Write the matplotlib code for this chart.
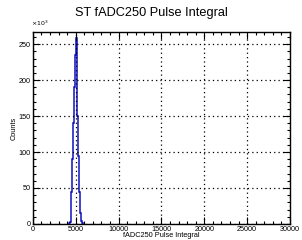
import matplotlib
matplotlib.use('Agg')
import matplotlib.pyplot as plt
from matplotlib.ticker import MultipleLocator

# histogram of the pulse integral (counts in units of 10^3)
bin_edges = [4200, 4300, 4400, 4500, 4600, 4700, 4800, 4900, 5000,
             5100, 5200, 5300, 5400, 5500, 5600, 5700, 5800]
counts_k = [1, 3, 12, 45, 90, 140, 190, 235, 258,
            215, 150, 95, 45, 15, 4, 1]

titulo = 'ST fADC250 Pulse Integral'
rotulo_x = 'fADC250 Pulse Integral'
rotulo_y = 'Counts'

plt.rcParams['font.family'] = ['Liberation Sans', 'DejaVu Sans']

fig = plt.figure(figsize=(3.02, 2.40), dpi=100)
ax = fig.add_axes([0.109, 0.067, 0.851, 0.800])

ax.stairs(counts_k, bin_edges, color='#1010c0', lw=1.1, baseline=0)

ax.set_xlim(0, 30000)
ax.set_ylim(0, 267)

# eixos estilo ROOT
ax.xaxis.set_major_locator(MultipleLocator(5000))
ax.xaxis.set_minor_locator(MultipleLocator(1000))
ax.yaxis.set_major_locator(MultipleLocator(50))
ax.yaxis.set_minor_locator(MultipleLocator(10))
ax.tick_params(which='both', direction='in', top=True, right=True,
               labelsize=5.2, pad=1.5, width=0.8)
ax.tick_params(which='major', length=5)
ax.tick_params(which='minor', length=2.5)
for s in ax.spines.values():
    s.set_linewidth(1.0)

ax.grid(True, which='major', color='black', ls=(0, (1, 2.5)), lw=0.9)

ax.set_xlabel(rotulo_x, fontsize=5.3, labelpad=-1)
ax.set_ylabel(rotulo_y, fontsize=5.3, labelpad=1)
fig.text(0.5, 0.945, titulo, ha='center', va='center', fontsize=9.2)
fig.text(0.103, 0.885, r'$\times10^{3}$', fontsize=4.5, ha='left', va='bottom')

fig.savefig('out.png', dpi=100)
